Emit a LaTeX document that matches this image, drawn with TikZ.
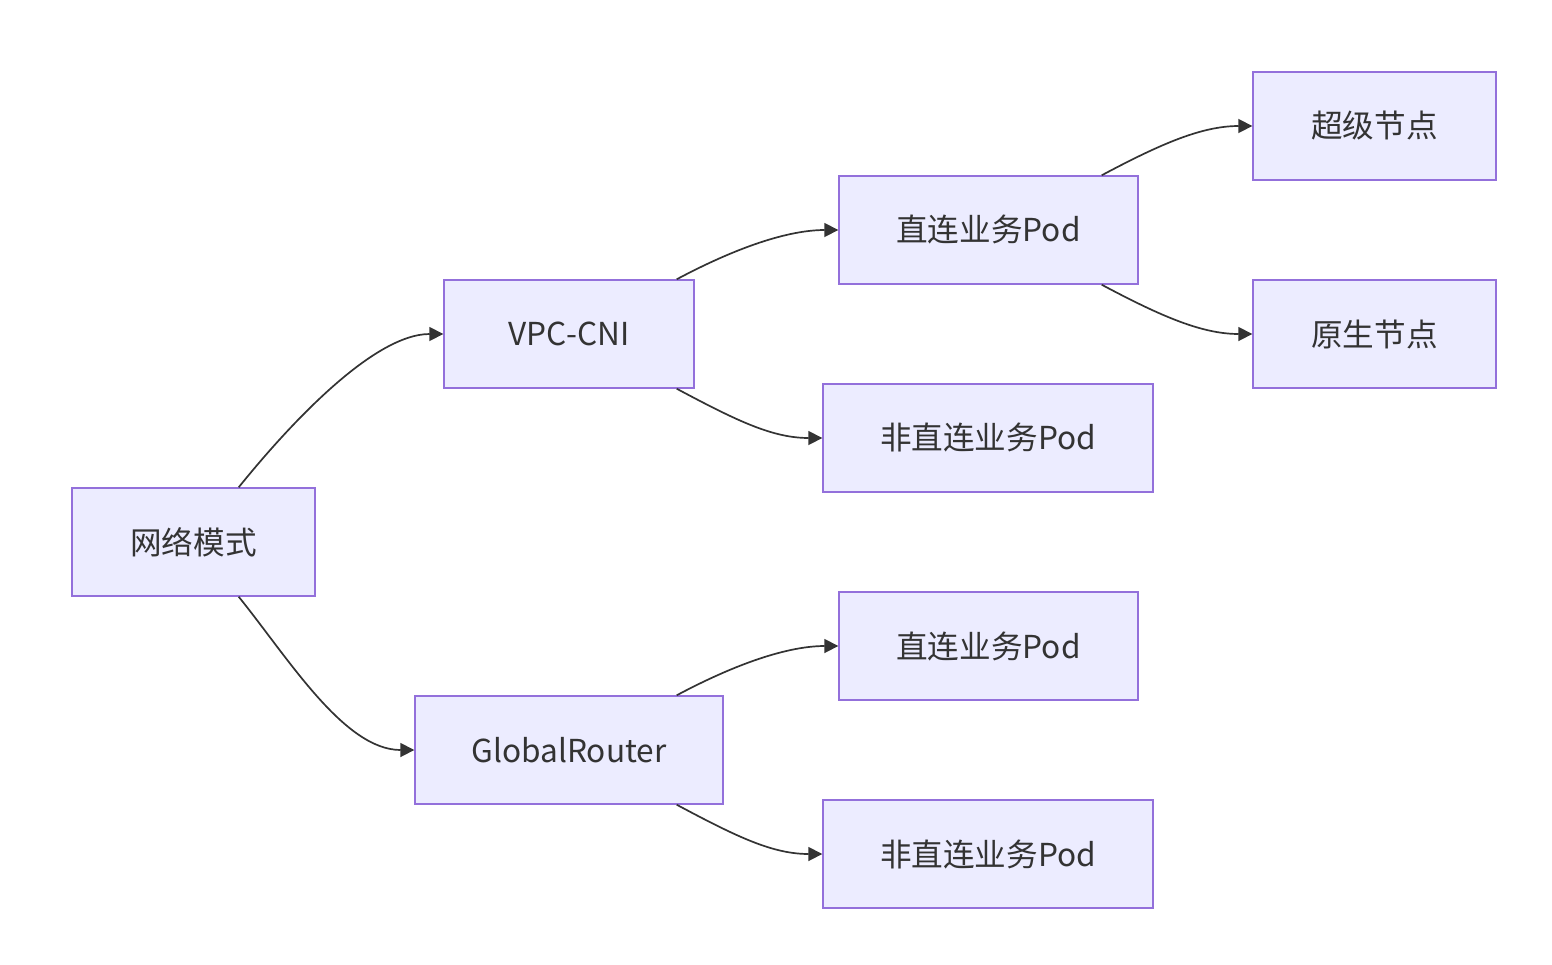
\documentclass[tikz,border=0pt]{standalone}
\usepackage{fontspec}
\setmainfont{Noto Sans CJK SC}
\usetikzlibrary{arrows.meta,calc}
\definecolor{boxfill}{HTML}{ECECFF}
\definecolor{boxline}{HTML}{9370DB}
\definecolor{edge}{HTML}{333333}
\begin{document}
\begin{tikzpicture}[x=0.5pt,y=-0.5pt,
  box/.style={draw=boxline,fill=boxfill,line width=0.7pt,minimum height=54pt,inner sep=0pt,font=\fontsize{15.8}{18}\selectfont,text=edge},
  conn/.style={draw=edge,line width=0.85pt,-{Triangle[length=7pt,width=7pt]}}]
\useasboundingbox (0,0) rectangle (1552,964);
\node[box,minimum width=121.5pt] (net) at (193.5,542) {网络模式};
\node[box,minimum width=125pt] (vpc) at (569,334) {VPC-CNI};
\node[box,minimum width=154pt] (gr) at (569,750) {GlobalRouter};
\node[box,minimum width=149.5pt] (d1) at (988.5,230) {直连业务Pod};
\node[box,minimum width=165pt] (n1) at (988,438) {非直连业务Pod};
\node[box,minimum width=149.5pt] (d2) at (988.5,646) {直连业务Pod};
\node[box,minimum width=165pt] (n2) at (988,854) {非直连业务Pod};
\node[box,minimum width=121.5pt] (sup) at (1374.5,126) {超级节点};
\node[box,minimum width=121.5pt] (nat) at (1374.5,334) {原生节点};

\coordinate (s1) at ([xshift=-38.5pt]net.north east);
\coordinate (s2) at ([xshift=-38.5pt]net.south east);
\coordinate (s3) at ([xshift=-9pt]vpc.north east);
\coordinate (s4) at ([xshift=-9pt]vpc.south east);
\coordinate (s5) at ([xshift=-23.5pt]gr.north east);
\coordinate (s6) at ([xshift=-23.5pt]gr.south east);
\coordinate (s7) at ([xshift=-18.5pt]d1.north east);
\coordinate (s8) at ([xshift=-18.5pt]d1.south east);

\draw[conn] (s1) .. controls +(50,-62) and +(-70,0) .. (vpc.west);
\draw[conn] (s2) .. controls +(50,62) and +(-70,0) .. (gr.west);
\draw[conn] (s3) .. controls +(60,-32) and +(-50,0) .. (d1.west);
\draw[conn] (s4) .. controls +(60,32) and +(-50,0) .. (n1.west);
\draw[conn] (s5) .. controls +(60,-32) and +(-50,0) .. (d2.west);
\draw[conn] (s6) .. controls +(60,32) and +(-50,0) .. (n2.west);
\draw[conn] (s7) .. controls +(60,-32) and +(-50,0) .. (sup.west);
\draw[conn] (s8) .. controls +(60,32) and +(-50,0) .. (nat.west);
\end{tikzpicture}
\end{document}
